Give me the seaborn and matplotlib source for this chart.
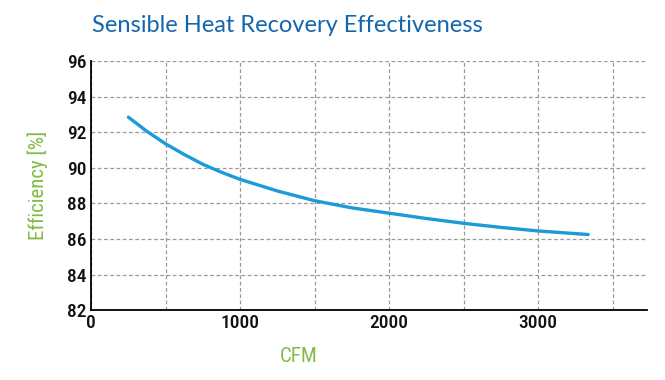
import matplotlib
matplotlib.use("Agg")
import matplotlib.pyplot as plt
import seaborn as sns
import pandas as pd
from matplotlib.ticker import MultipleLocator

cfm = [250, 375, 500, 625, 750, 875, 1000, 1250, 1500, 1750, 2000, 2250, 2500, 2750, 3000, 3335]
efficiency = [92.85, 92.05, 91.35, 90.75, 90.2, 89.75, 89.35, 88.7, 88.15, 87.75, 87.45, 87.15, 86.88, 86.65, 86.45, 86.25]
x_ticks = [0, 1000, 2000, 3000]
y_ticks = [82, 84, 86, 88, 90, 92, 94, 96]

sns.set_style("white")
plt.rcParams['font.family'] = ['Roboto Condensed', 'Roboto', 'DejaVu Sans']
narrow = ['Roboto Condensed', 'Roboto', 'DejaVu Sans']

df = pd.DataFrame({"CFM": cfm, "Efficiency": efficiency})

fig = plt.figure(figsize=(6.65, 3.8), dpi=100)
ax = fig.add_axes([0.137, 0.184, 0.836, 0.655])
sns.lineplot(data=df, x="CFM", y="Efficiency", ax=ax, color="#1b9bd7", linewidth=2.4)

ax.set_xlim(0, 3730)
ax.set_ylim(82, 96)
ax.xaxis.set_major_locator(MultipleLocator(1000))
ax.xaxis.set_minor_locator(MultipleLocator(500))
ax.set_yticks(y_ticks)
ax.set_xticks(x_ticks)
ax.grid(True, which="both", axis="x", linestyle=(0, (3, 2)), color="#9a9a9a", linewidth=0.9)
ax.grid(True, which="major", axis="y", linestyle=(0, (3, 2)), color="#9a9a9a", linewidth=0.9)
ax.tick_params(which="both", length=0, pad=3)
for lbl in ax.get_xticklabels() + ax.get_yticklabels():
    lbl.set_family(narrow)
    lbl.set_fontsize(14)
    lbl.set_fontweight("medium")
    lbl.set_color("#111111")

for s in ["top", "right"]:
    ax.spines[s].set_visible(False)
for s in ["left", "bottom"]:
    ax.spines[s].set_color("black")
    ax.spines[s].set_linewidth(1.3)

ax.set_xlabel("CFM", family=narrow, fontsize=15, color="#80bc44")
ax.set_ylabel("Efficiency [%]", family=narrow, fontsize=15, color="#80bc44")
ax.xaxis.set_label_coords((299 - 91) / 556, -0.15)
ax.yaxis.set_label_coords(-0.078, 0.5)

fig.text(92 / 665, 1 - 25 / 380, "Sensible Heat Recovery Effectiveness",
         fontsize=17, color="#1466ad", family="Lato", va="center", ha="left")

fig.savefig("out.png", dpi=100)
